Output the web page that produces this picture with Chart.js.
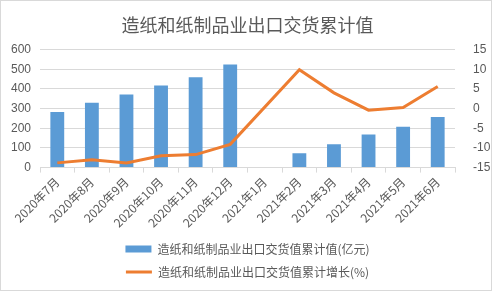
<!DOCTYPE html>
<html><head><meta charset="utf-8">
<script src="https://cdn.jsdelivr.net/npm/chart.js@4/dist/chart.umd.min.js"></script>
<style>
html,body{margin:0;padding:0;background:#fff;}
#wrap{position:relative;width:492px;height:291px;box-sizing:border-box;border:1px solid #d9d9d9;}
canvas{display:block;}
</style></head><body>
<div id="wrap"><canvas id="c" width="490" height="289"></canvas></div>
<script>
const categories = ['2020年7月','2020年8月','2020年9月','2020年10月','2020年11月','2020年12月','2021年1月','2021年2月','2021年3月','2021年4月','2021年5月','2021年6月'];
const exportValue = [283, 330, 372, 418, 460, 524, null, 73, 119, 168, 208, 257];
const exportGrowth = [-13.8, -13.0, -13.8, -12.0, -11.7, -9.1, null, 9.9, 4.0, -0.4, 0.3, 5.6];
const leftTicks = [0, 600, 100];
const rightTicks = [-15, 15, 5];
const txt = '#595959';
const font = "'Noto Sans CJK SC', 'DejaVu Sans', sans-serif";
const numFont = "'Liberation Sans', 'DejaVu Sans', sans-serif";

new Chart(document.getElementById('c'), {
  data: {
    labels: categories,
    datasets: [
      { type: 'line', label: '造纸和纸制品业出口交货值累计增长(%)', data: exportGrowth, yAxisID: 'y1',
        borderColor: '#ed7d31', backgroundColor: '#ed7d31', borderWidth: 3, pointRadius: 0,
        spanGaps: true, tension: 0, order: 0, pointStyle: 'line' },
      { type: 'bar', label: '造纸和纸制品业出口交货值累计值(亿元)', data: exportValue, yAxisID: 'y',
        backgroundColor: '#5b9bd5', categoryPercentage: 0.8, barPercentage: 0.5, order: 1, pointStyle: 'rect' }
    ]
  },
  options: {
    responsive: false, animation: false,
    devicePixelRatio: 1,
    layout: { padding: { left: 3, right: 0, top: 4, bottom: 2 } },
    plugins: {
      title: { display: true, text: '造纸和纸制品业出口交货累计值', color: txt,
        font: { family: font, size: 18, weight: 'normal' }, padding: { top: 9, bottom: 14 } },
      legend: { position: 'bottom', reverse: true,
        labels: { color: txt, font: { family: font, size: 12 }, usePointStyle: true,
          boxWidth: 26, boxHeight: 7, pointStyleWidth: 26, padding: 11,
          generateLabels: (chart) => {
            const items = Chart.defaults.plugins.legend.labels.generateLabels(chart);
            items.forEach(it => { it.lineWidth = it.pointStyle === 'line' ? 3 : 0; });
            return items;
          } } },
      tooltip: { enabled: false }
    },
    scales: {
      x: { grid: { display: true, drawOnChartArea: false, color: '#d9d9d9', tickLength: 5, offset: true },
        border: { color: '#d9d9d9' },
        afterFit: s => { s.paddingLeft = 0; s.paddingRight = 0; },
        ticks: { color: txt, font: { family: font, size: 12 }, maxRotation: 45, minRotation: 45, autoSkip: false, padding: 2 } },
      y: { position: 'left', min: leftTicks[0], max: leftTicks[1],
        afterFit: s => { s.width = 36; },
        ticks: { stepSize: leftTicks[2], color: txt, font: { family: numFont, size: 12 }, padding: 9 },
        grid: { color: '#d9d9d9', drawTicks: false }, border: { display: false } },
      y1: { position: 'right', min: rightTicks[0], max: rightTicks[1],
        afterFit: s => { s.width = 36; },
        ticks: { stepSize: rightTicks[2], color: txt, font: { family: numFont, size: 12 }, padding: 10 },
        grid: { display: false }, border: { display: false } }
    }
  }
});
</script>
</body></html>
